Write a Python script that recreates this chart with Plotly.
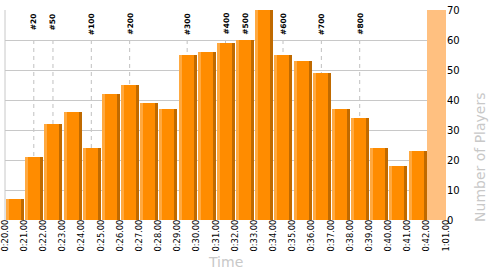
import plotly.graph_objects as go

# ---- data ----
bin_edges = ["0:20.00", "0:21.00", "0:22.00", "0:23.00", "0:24.00", "0:25.00",
             "0:26.00", "0:27.00", "0:28.00", "0:29.00", "0:30.00", "0:31.00",
             "0:32.00", "0:33.00", "0:34.00", "0:35.00", "0:36.00", "0:37.00",
             "0:38.00", "0:39.00", "0:40.00", "0:41.00", "0:42.00", "1:01.00"]
players = [7, 21, 32, 36, 24, 42, 45, 39, 37, 55, 56, 59, 60, 70, 55, 53, 49,
           37, 34, 24, 18, 23]
tail_value = [70]          # last (0:42.00 - 1:01.00) band
milestones = ["#20", "#50", "#100", "#200", "#300", "#400", "#500", "#600", "#700", "#800"]
milestone_bins = [1, 2, 4, 6, 9, 11, 12, 14, 16, 18]
y_ticks = [0, 10, 20, 30, 40, 50, 60, 70]

FONT = "DejaVu Sans"
MAIN = "#FF8C00"
LIGHT = "#FFA940"
DARK = "#C06A00"
BAND = "#FFC080"
GRID = "#C8C8C8"

centers = [i + 0.5 for i in range(len(players))]
tail_center = [len(players) + 0.5]

fig = go.Figure()
fig.add_trace(go.Bar(x=centers, y=players, width=0.94, offset=-0.45,
                     marker=dict(color=MAIN, line=dict(width=0)), opacity=1,
                     hoverinfo="y"))
fig.add_trace(go.Bar(x=centers, y=players, width=0.156, offset=-0.45,
                     marker=dict(color=LIGHT, line=dict(width=0)), opacity=1,
                     hoverinfo="skip"))
fig.add_trace(go.Bar(x=centers, y=players, width=0.156, offset=0.334,
                     marker=dict(color=DARK, line=dict(width=0)), opacity=1,
                     hoverinfo="skip"))
fig.add_trace(go.Bar(x=tail_center, y=tail_value, width=1.0, offset=-0.5,
                     marker=dict(color=BAND, line=dict(width=0)), opacity=1,
                     hoverinfo="y"))

shapes = []
annotations = []
for label, b in zip(milestones, milestone_bins):
    shapes.append(dict(type="line", xref="x", yref="y", x0=centers[b], x1=centers[b],
                       y0=0, y1=60.7, layer="below",
                       line=dict(color="#C0C0C0", width=1, dash="4px,4px")))
    annotations.append(dict(x=centers[b], xref="x", y=1, yref="paper", yshift=-1,
                            yanchor="top", xanchor="center", text="<b>%s</b>" % label,
                            textangle=-90, showarrow=False,
                            font=dict(family=FONT, size=7.5, color="black")))
# left border
shapes.append(dict(type="line", xref="paper", yref="paper", x0=0, x1=0, y0=0, y1=1,
                   line=dict(color=GRID, width=1)))

annotations.append(dict(text="Time", x=0.5, xref="paper", y=-0.2, yref="paper",
                        xanchor="center", yanchor="middle", showarrow=False,
                        font=dict(family=FONT, size=14, color=GRID)))
annotations.append(dict(text="Number of Players", x=1.077, xref="paper", y=0, yref="paper",
                        yshift=-4, xanchor="center", yanchor="bottom", textangle=-90,
                        showarrow=False, font=dict(family=FONT, size=14, color=GRID)))

fig.update_layout(
    width=500, height=275,
    margin=dict(l=5, r=54, t=10, b=55),
    paper_bgcolor="white", plot_bgcolor="white",
    barmode="overlay", bargap=0,
    showlegend=False,
    shapes=shapes, annotations=annotations,
    font=dict(family=FONT, color="black"),
)
fig.update_xaxes(range=[-0.002, len(bin_edges) - 1 + 0.002], tickmode="array",
                 tickvals=list(range(len(bin_edges))), ticktext=bin_edges,
                 tickangle=-90, tickfont=dict(family=FONT, size=8.3, color="black"),
                 ticklabelstandoff=-3, ticklabeloverflow="allow",
                 showgrid=False, zeroline=False, showline=False, ticks="",
                 automargin=False, fixedrange=True)
fig.update_yaxes(range=[0, 70], side="right", tickmode="array", tickvals=y_ticks,
                 tickfont=dict(family=FONT, size=10, color="black"),
                 showgrid=True, gridcolor=GRID, gridwidth=1, zeroline=False,
                 showline=False, ticks="", automargin=False, fixedrange=True)

fig.write_html("out.html")
